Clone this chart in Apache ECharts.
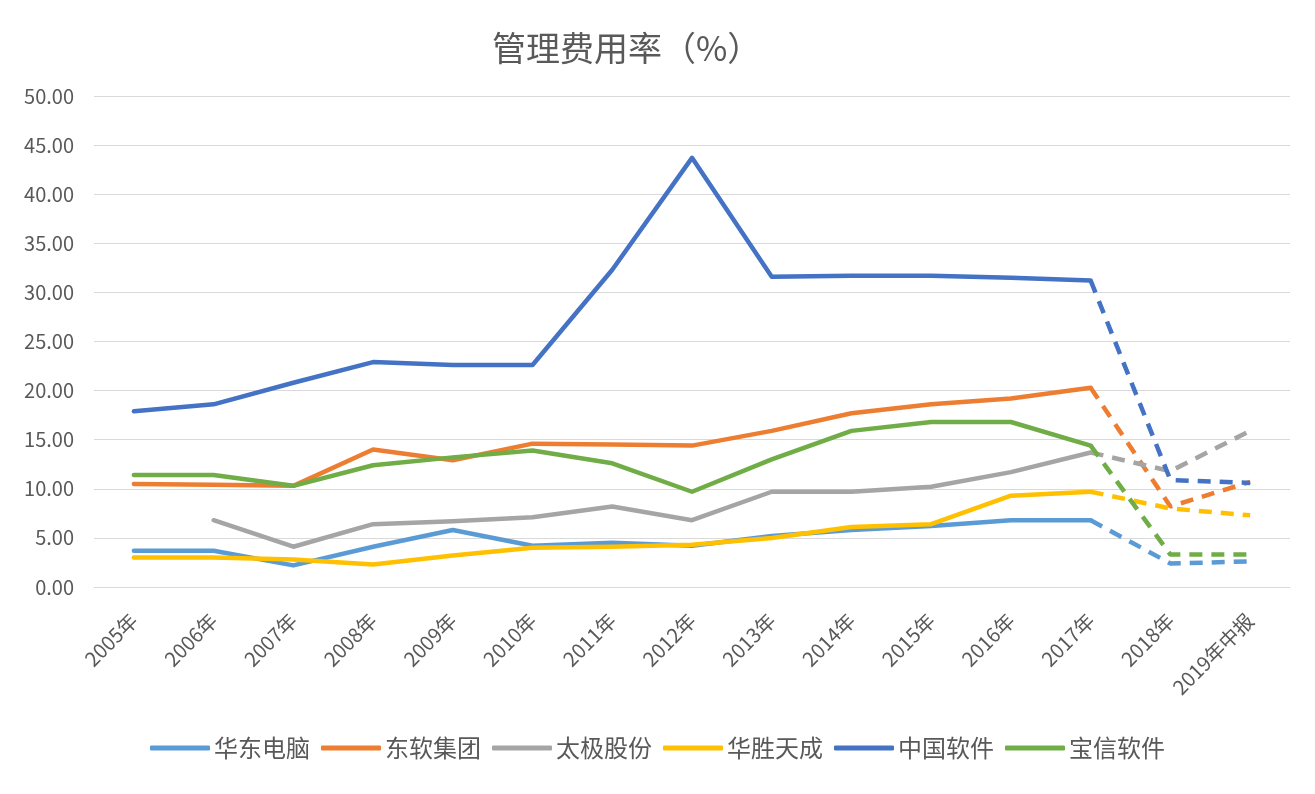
<!DOCTYPE html>
<html><head><meta charset="utf-8">
<script src="https://cdn.jsdelivr.net/npm/echarts@6/dist/echarts.min.js"></script>
<style>html,body{margin:0;padding:0;background:#fff}#c{width:1315px;height:794px}</style>
</head><body><div id="c"></div>
<script>
const categories = ['2005年','2006年','2007年','2008年','2009年','2010年','2011年','2012年','2013年','2014年','2015年','2016年','2017年','2018年','2019年中报'];
const huadong   = [3.7,3.7,2.2,4.1,5.8,4.2,4.5,4.2,5.2,5.8,6.2,6.8,6.8,2.4,2.6];
const dongruan  = [10.5,10.4,10.3,14.0,12.9,14.6,14.5,14.4,15.9,17.7,18.6,19.2,20.3,8.2,10.7];
const taiji     = [null,6.8,4.1,6.4,6.7,7.1,8.2,6.8,9.7,9.7,10.2,11.7,13.7,11.8,15.9];
const huasheng  = [3.0,3.0,2.8,2.3,3.2,4.0,4.1,4.3,5.0,6.1,6.4,9.3,9.7,8.0,7.3];
const zhongguo  = [17.9,18.6,20.8,22.9,22.6,22.6,32.3,43.7,31.6,31.7,31.7,31.5,31.2,10.9,10.6];
const baoxin    = [11.4,11.4,10.3,12.4,13.2,13.9,12.6,9.7,13.0,15.9,16.8,16.8,14.4,3.3,3.3];

const names = ['华东电脑','东软集团','太极股份','华胜天成','中国软件','宝信软件'];
const colors = ['#5B9BD5','#ED7D31','#A5A5A5','#FFC000','#4472C4','#70AD47'];
const datas = [huadong,dongruan,taiji,huasheng,zhongguo,baoxin];
const splitIdx = 12;
const font = '"Noto Sans CJK SC", "Microsoft YaHei", sans-serif';

const series = [];
datas.forEach((d,i)=>{
  series.push({name:names[i],type:'line',symbol:'none',smooth:false,
    data:d.map((v,k)=>k<=splitIdx?v:null),
    lineStyle:{width:4.5,color:colors[i],cap:'round',join:'round'},itemStyle:{color:colors[i]}});
});
datas.forEach((d,i)=>{
  series.push({name:names[i],type:'line',symbol:'none',smooth:false,
    data:d.map((v,k)=>k>=splitIdx?v:null),
    lineStyle:{width:4.5,color:colors[i],type:[13,9]},itemStyle:{color:colors[i]}});
});

const chart = echarts.init(document.getElementById('c'));
chart.setOption({
  animation:false,
  backgroundColor:'#fff',
  title:{text:'管理费用率（%）',left:487,top:26,textStyle:{fontFamily:font,fontSize:34,fontWeight:'normal',color:'#595959'}},
  legend:{data:names.map((n,i)=>({name:n,itemStyle:{color:colors[i]}})),top:731,left:'center',itemWidth:60,itemHeight:5,itemGap:11,icon:'roundRect',
    textStyle:{fontFamily:font,fontSize:24,color:'#595959',padding:[0,0,0,-1]}},
  grid:{left:94,right:25,top:96,bottom:207},
  xAxis:{type:'category',data:categories,boundaryGap:true,
    axisLine:{lineStyle:{color:'#D9D9D9',width:1}},axisTick:{show:false},
    axisLabel:{rotate:45,interval:0,fontFamily:font,fontSize:20,color:'#595959',margin:30}},
  yAxis:{type:'value',min:0,max:50,interval:5,
    axisLine:{show:false},axisTick:{show:false},
    splitLine:{lineStyle:{color:'#D9D9D9',width:1}},
    axisLabel:{formatter:v=>v.toFixed(2),fontFamily:font,fontSize:20,color:'#595959',margin:20}},
  series:series
});
</script></body></html>
